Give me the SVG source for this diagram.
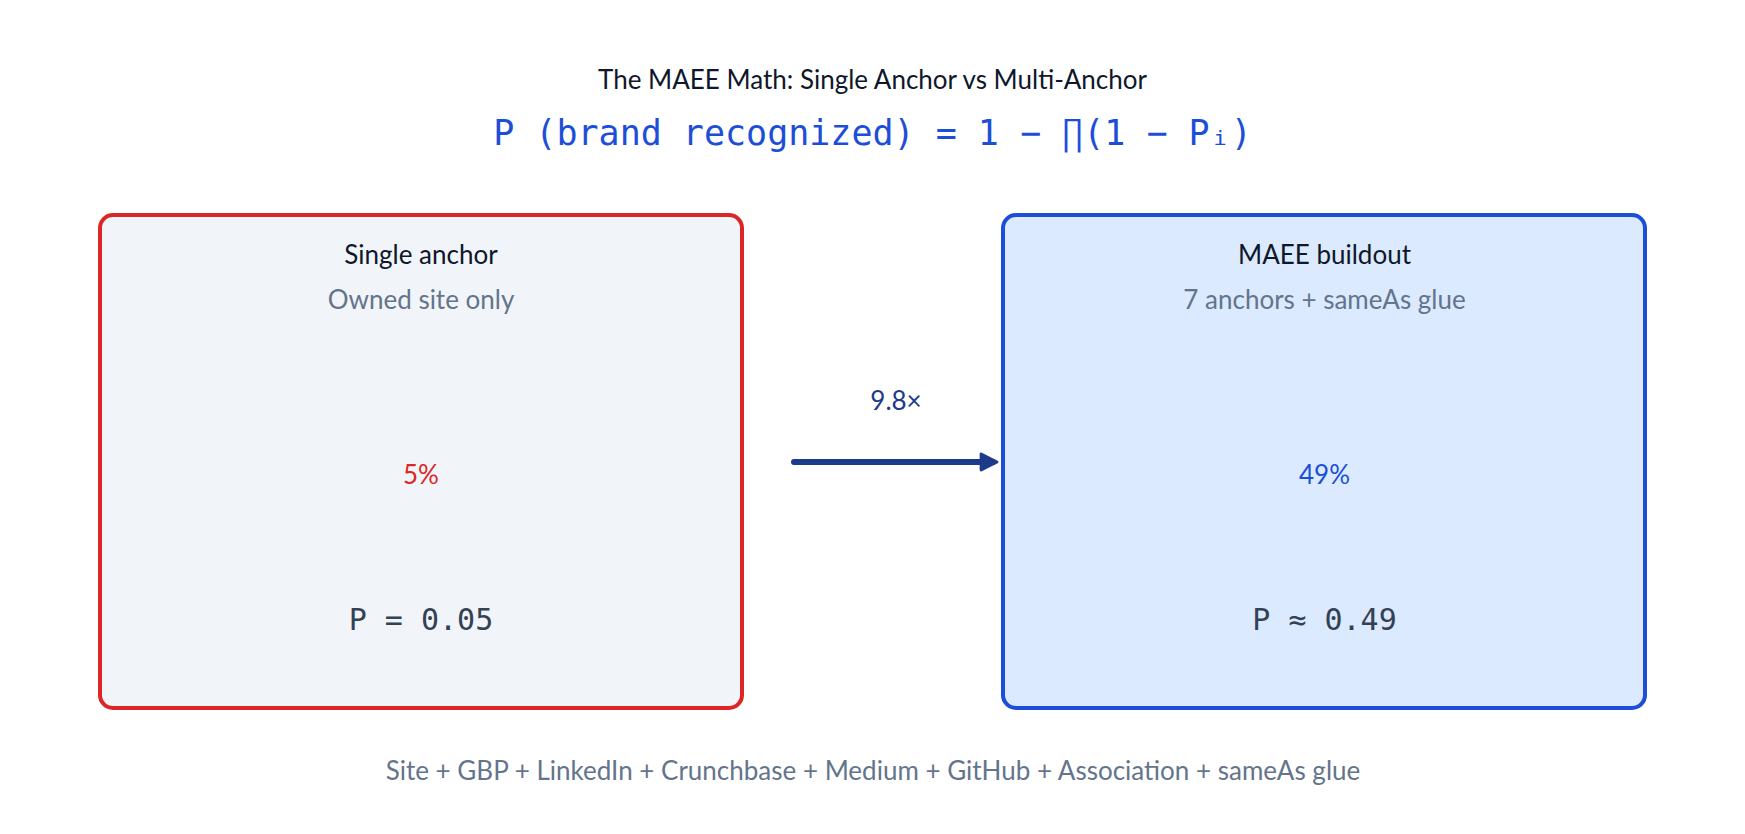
<svg xmlns="http://www.w3.org/2000/svg" width="1745" height="834" viewBox="0 0 1745 834">
<style>
.sans{font-family:Lato,"Noto Sans","DejaVu Sans",sans-serif;text-anchor:middle}
.mono{font-family:"DejaVu Sans Mono","Liberation Mono",monospace;text-anchor:middle}
.title{font-size:26px;fill:#0f172a}
.sub{font-size:26px;fill:#64748b}
.pct{font-size:26px}
.pval{font-size:30px;fill:#334155}
</style>
<defs>
<marker id="ah" viewBox="0 0 10 10" refX="7" refY="5" markerWidth="3.3" markerHeight="3.3" orient="auto" markerUnits="strokeWidth">
<path d="M1,1 L9,5 L1,9 z" fill="#1e3a8a" stroke="#1e3a8a" stroke-width="1.5" stroke-linejoin="round"/>
</marker>
</defs>
<rect width="1745" height="834" fill="#ffffff"/>
<g id="header">
<text class="sans title" x="872.5" y="89">The MAEE Math: Single Anchor vs Multi-Anchor</text>
<text class="mono" x="872.5" y="145" font-size="35" fill="#1d4ed8">P (brand recognized) = 1 − ∏(1 − Pᵢ)</text>
</g>
<g id="single">
<rect x="100" y="215" width="642" height="493" rx="13" fill="#f1f5f9" stroke="#dc2626" stroke-width="4"/>
<text class="sans title" x="421" y="264">Single anchor</text>
<text class="sans sub" x="421" y="309">Owned site only</text>
<text class="sans pct" x="421" y="484" fill="#dc2626">5%</text>
<text class="mono pval" x="421" y="630">P = 0.05</text>
</g>
<g id="multi">
<rect x="1003" y="215" width="642" height="493" rx="13" fill="#dbeafe" stroke="#1d4ed8" stroke-width="4"/>
<text class="sans title" x="1324.5" y="264">MAEE buildout</text>
<text class="sans sub" x="1324.5" y="309">7 anchors + sameAs glue</text>
<text class="sans pct" x="1324.5" y="484" fill="#1d4ed8">49%</text>
<text class="mono pval" x="1324.5" y="630">P ≈ 0.49</text>
</g>
<g id="connectors">
<line x1="794" y1="462" x2="993" y2="462" stroke="#1e3a8a" stroke-width="6" stroke-linecap="round" marker-end="url(#ah)"/>
<text class="sans" x="896" y="410" font-size="26" fill="#1e3a8a">9.8×</text>
</g>
<g id="footer">
<text class="sans sub" x="873" y="780">Site + GBP + LinkedIn + Crunchbase + Medium + GitHub + Association + sameAs glue</text>
</g>
</svg>
